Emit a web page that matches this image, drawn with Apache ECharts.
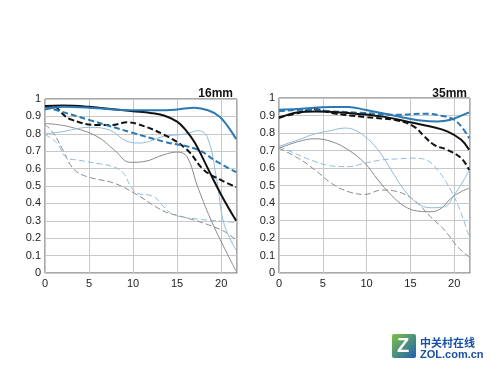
<!DOCTYPE html>
<html>
<head>
<meta charset="utf-8">
<script src="https://cdn.jsdelivr.net/npm/echarts@6/dist/echarts.min.js"></script>
<style>
html,body{margin:0;padding:0;background:#fff;}
#main{width:500px;height:375px;}
</style>
</head>
<body>
<div id="main"></div>
<script>
// 16mm curves  [position mm, MTF]
var w16BlackS = [[0,0.96],[2,0.962],[5,0.955],[8,0.94],[10,0.93],[12,0.92],[13.5,0.905],[15,0.87],[16,0.82],[17,0.75],[18.5,0.6],[20,0.45],[21.7,0.3]];
var w16BlackM = [[1.2,0.96],[1.9,0.92],[2.8,0.885],[5.9,0.85],[7.6,0.85],[9.3,0.866],[10.4,0.858],[13.5,0.795],[16.1,0.71],[18,0.594],[19.9,0.536],[21.7,0.494]];
var w16BlueS = [[0,0.94],[2,0.955],[5,0.95],[10,0.935],[13,0.935],[15,0.94],[17,0.95],[18.5,0.935],[19.8,0.9],[20.8,0.84],[21.7,0.77]];
var w16BlueM = [[0,0.955],[1.7,0.93],[5,0.88],[10,0.805],[13.5,0.755],[17.3,0.71],[19.5,0.64],[21.7,0.58]];
var w16GrayS = [[0,0.86],[2.8,0.84],[5.9,0.785],[7.8,0.71],[9.7,0.636],[11.2,0.64],[13.5,0.68],[15,0.695],[16.1,0.67],[17.3,0.5],[18.8,0.31],[20.3,0.15],[21.7,0.01]];
var w16GrayM = [[0,0.855],[1,0.8],[2.1,0.7],[3.2,0.6],[4.7,0.555],[7.8,0.517],[10.1,0.46],[13.5,0.355],[15.4,0.326],[18,0.287],[20.3,0.24],[21.7,0.19]];
var w16LblueS = [[0,0.8],[1.7,0.81],[5.1,0.837],[7.4,0.82],[9.3,0.757],[10.8,0.747],[13.5,0.785],[16.1,0.8],[17.3,0.818],[18.4,0.785],[19.5,0.536],[20.3,0.287],[21.7,0.13]];
var w16LblueM = [[0,0.795],[1.3,0.75],[2.5,0.66],[3.6,0.65],[5.9,0.63],[7.8,0.61],[8.9,0.575],[9.7,0.5],[10.4,0.46],[12.3,0.44],[13.5,0.38],[14.6,0.335],[17.3,0.31],[19.5,0.3],[21.7,0.29]];

// 35mm curves
var w35BlackS = [[0,0.885],[2.2,0.918],[4.1,0.923],[7.9,0.914],[11.7,0.895],[15.4,0.857],[17.3,0.837],[19.2,0.809],[20.8,0.761],[21.7,0.704]];
var w35BlackM = [[0,0.89],[2.2,0.914],[4.1,0.937],[6,0.914],[9.8,0.891],[13.5,0.872],[15.4,0.837],[16.6,0.78],[17.7,0.732],[19.2,0.704],[20.8,0.656],[21.7,0.589]];
var w35BlueS = [[0,0.933],[2.2,0.937],[6,0.948],[7.9,0.948],[9.8,0.933],[13.5,0.895],[16.2,0.872],[18.1,0.866],[19.6,0.876],[20.8,0.899],[21.7,0.918]];
var w35BlueM = [[0,0.924],[2.9,0.933],[6,0.924],[9.8,0.914],[13.5,0.904],[16.6,0.91],[18.5,0.899],[20,0.876],[21.1,0.818],[21.7,0.77]];
var w35GrayS = [[0,0.713],[2.2,0.751],[4.1,0.767],[6,0.751],[7.9,0.704],[9.8,0.627],[11.3,0.532],[12.8,0.446],[14.3,0.382],[15.8,0.354],[17.3,0.35],[18.5,0.369],[19.6,0.426],[20.8,0.465],[21.7,0.484]];
var w35GrayM = [[0,0.713],[2.2,0.656],[4.1,0.589],[6,0.512],[7.9,0.465],[9.8,0.449],[11.7,0.474],[13.5,0.465],[15.4,0.417],[17.3,0.321],[18.9,0.245],[20.4,0.149],[21.7,0.092]];
var w35LblueS = [[0,0.723],[2.2,0.761],[4.1,0.795],[6,0.815],[7.5,0.828],[8.6,0.818],[9.8,0.78],[11.3,0.704],[12.8,0.589],[14.3,0.474],[15.8,0.398],[17.3,0.373],[18.9,0.379],[20,0.446],[21.1,0.532],[21.7,0.589]];
var w35LblueM = [[0,0.723],[2.2,0.675],[4.1,0.637],[6,0.612],[7.9,0.608],[9.8,0.627],[11.7,0.646],[13.5,0.652],[15.4,0.656],[16.6,0.65],[18.1,0.589],[19.6,0.474],[20.8,0.34],[21.7,0.206]];

var titles = ['16mm', '35mm'];

var colBlack = '#111111', colBlue = '#2a78b4', colGray = '#8a8a8a', colLblue = '#92bcd8';

function mkLine(idx, data, color, width, dashed) {
    return {
        type: 'line', xAxisIndex: idx, yAxisIndex: idx, data: data,
        smooth: 0.4, symbol: 'none', silent: true, animation: false,
        lineStyle: { color: color, width: width, type: dashed ? [6, 3] : 'solid' }
    };
}

var myChart = echarts.init(document.getElementById('main'));

function mkX(idx) {
    return {
        gridIndex: idx, type: 'value', min: 0, max: 21.8, interval: 5,
        axisLine: { show: false }, axisTick: { show: false },
        axisLabel: { color: '#222', fontSize: 11, margin: 5, showMaxLabel: false,
            fontFamily: 'Liberation Sans, Arial' },
        splitLine: { show: true, lineStyle: { color: '#c8c8c8', width: 1 } }
    };
}
function mkY(idx) {
    return {
        gridIndex: idx, type: 'value', min: 0, max: 1, interval: 0.1,
        axisLine: { show: false }, axisTick: { show: false },
        axisLabel: { color: '#222', fontSize: 11, margin: 4,
            fontFamily: 'Liberation Sans, Arial' },
        splitLine: { show: true, lineStyle: { color: '#c8c8c8', width: 1 } }
    };
}

var series = [];
// 左图
series.push(mkLine(0, w16GrayM, colGray, 1, true));
series.push(mkLine(0, w16LblueM, colLblue, 1, true));
series.push(mkLine(0, w16GrayS, colGray, 1, false));
series.push(mkLine(0, w16LblueS, colLblue, 1, false));
series.push(mkLine(0, w16BlackM, colBlack, 2, true));
series.push(mkLine(0, w16BlueM, colBlue, 2, true));
series.push(mkLine(0, w16BlackS, colBlack, 2, false));
series.push(mkLine(0, w16BlueS, colBlue, 2, false));
// 右图
series.push(mkLine(1, w35GrayM, colGray, 1, true));
series.push(mkLine(1, w35LblueM, colLblue, 1, true));
series.push(mkLine(1, w35GrayS, colGray, 1, false));
series.push(mkLine(1, w35LblueS, colLblue, 1, false));
series.push(mkLine(1, w35BlackM, colBlack, 2, true));
series.push(mkLine(1, w35BlueM, colBlue, 2, true));
series.push(mkLine(1, w35BlackS, colBlack, 2, false));
series.push(mkLine(1, w35BlueS, colBlue, 2, false));

var option = {
    backgroundColor: '#fff',
    animation: false,
    title: [
        { text: titles[0], right: 262, top: 83,
          textStyle: { fontSize: 12, fontWeight: 'bold', color: '#111', fontFamily: 'Liberation Sans, Arial' } },
        { text: titles[1], right: 28, top: 83,
          textStyle: { fontSize: 12, fontWeight: 'bold', color: '#111', fontFamily: 'Liberation Sans, Arial' } }
    ],
    grid: [
        { left: 45, top: 99, width: 192, height: 174, show: true, borderColor: '#555', borderWidth: 1, backgroundColor: 'transparent' },
        { left: 279, top: 98, width: 191, height: 175, show: true, borderColor: '#555', borderWidth: 1, backgroundColor: 'transparent' }
    ],
    xAxis: [mkX(0), mkX(1)],
    yAxis: [mkY(0), mkY(1)],
    series: series,
    graphic: [
        { type: 'rect', left: 392, top: 334, shape: { width: 24, height: 24, r: 2 },
          style: { fill: new echarts.graphic.LinearGradient(0, 0, 1, 1, [
              { offset: 0, color: '#7cc242' }, { offset: 1, color: '#1e5fb4' }]) } },
        { type: 'text', left: 397, top: 336,
          style: { text: 'Z', fill: '#fff', font: 'bold 20px Liberation Sans' } },
        { type: 'text', left: 420, top: 337,
          style: { text: '中关村在线', fill: '#1a4fa8', font: 'bold 11px "Noto Sans CJK SC"' } },
        { type: 'text', left: 420, top: 349,
          style: { text: 'ZOL.com.cn', fill: '#1a4fa8', font: 'bold 11px Liberation Sans' } }
    ]
};

myChart.setOption(option);
</script>
</body>
</html>
